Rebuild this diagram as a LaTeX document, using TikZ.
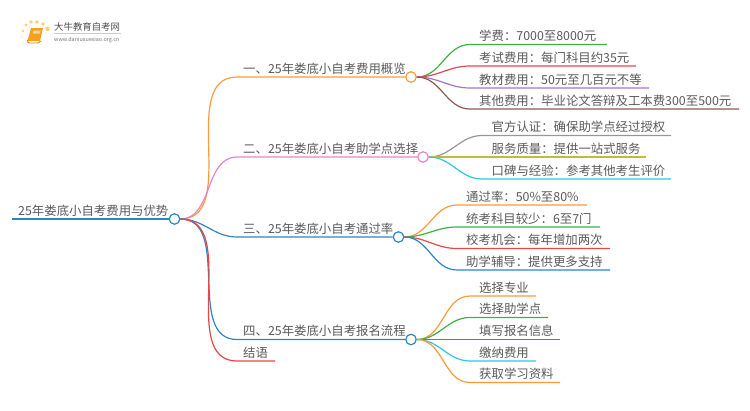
\documentclass[tikz,border=0pt]{standalone}
\usepackage{fontspec}
\setmainfont{Noto Sans CJK SC}
\usepackage{tikz}
\usetikzlibrary{arrows.meta,calc,positioning}
\definecolor{branchorange}{RGB}{255,154,60}
\definecolor{branchpink}{RGB}{232,130,205}
\definecolor{branchblue}{RGB}{46,134,193}
\definecolor{branchred}{RGB}{232,70,75}
\definecolor{branchgreen}{RGB}{62,176,70}
\definecolor{branchpurple}{RGB}{165,115,210}
\definecolor{branchbrown}{RGB}{140,90,85}
\definecolor{branchgray}{RGB}{150,150,150}
\definecolor{brancholive}{RGB}{190,190,50}
\definecolor{branchcyan}{RGB}{45,200,220}
\definecolor{labelgray}{RGB}{90,90,90}
\definecolor{logodot}{RGB}{255,208,110}
\definecolor{logobook}{RGB}{245,160,30}
\tikzset{
  lab/.style={anchor=base west, inner sep=0pt, text=labelgray, font=\fontsize{12.4}{14}\selectfont},
  hub/.style={circle, draw=#1, fill=white, line width=1.2pt, minimum size=10.5pt, inner sep=0pt},
  link/.style={draw=#1, line width=1.2pt}
}
\begin{document}
\begin{tikzpicture}[x=1pt, y=-1pt]
  \useasboundingbox (0,0) rectangle (750,410);
  % logo
  \fill[logodot] (23,31) circle (1.4) (26,25) circle (1.6) (31,22) circle (1.8) (37,22) circle (1.8) (43,24) circle (1.8) (47.5,29) circle (2.2);
  \fill[logodot!40] (22,37) circle (1.2) (23.5,42.5) circle (1);
  \fill[logobook] (31,28) -- (43,28) -- (40,41) -- (27.5,41) -- cycle;
  \draw[logobook!85!black, line width=0.9pt, line cap=round] (27.5,40) .. controls (27.5,42.5) and (28,43) .. (30,43) -- (38,43) -- (41,41);
  \fill[white, opacity=0.55] (33.5,30.5) -- (40.5,30.5) -- (40,33.5) -- (33,33.5) -- cycle;
  \node[anchor=base west, inner sep=0pt, text=black!70, font=\fontsize{9.4}{11}\selectfont] (logotitle) at (54,30.5) {大牛教育自考网};
  \node[anchor=base west, inner sep=0pt, text=black!55, font=\fontsize{5.4}{6}\selectfont] (logourl) at (54,41) {www.daniuxuexiao.org.cn};
  \draw[black!20, line width=0.4pt] (54,33.5) -- (121,33.5);

  % root and main topics
  \coordinate (rootIn) at (12,219);
  \node[hub=branchblue] (root) at (174.5,219) {};
  \node[hub=branchorange] (hubA) at (411,77) {};
  \node[hub=branchpink] (hubB) at (423,157) {};
  \node[hub=branchblue] (hubC) at (398.5,237) {};
  \node[hub=branchblue] (hubD) at (411,339.5) {};
  \coordinate (inA) at (237,77);
  \coordinate (inB) at (237,157);
  \coordinate (inC) at (237,237);
  \coordinate (inD) at (237,339.5);
  \coordinate (inE) at (237,361);
  \coordinate (outE) at (275,361);
  \draw[link=branchblue] (rootIn) -- (root);
  \draw[link=branchorange] (root) to[out=0,in=180] (inA) -- (hubA);
  \draw[link=branchpink] (root) to[out=0,in=180] (inB) -- (hubB);
  \draw[link=branchblue] (root) to[out=0,in=180] (inC) -- (hubC);
  \draw[link=branchblue] (root) to[out=0,in=180] (inD) -- (hubD);
  \draw[link=branchred] (root) to[out=0,in=180] (inE) -- (outE);
  \node[lab] (rootText) at (18,215) {25年娄底小自考费用与优势};
  \node[lab] (textA) at (243,73) {一、25年娄底小自考费用概览};
  \node[lab] (textB) at (243,153) {二、25年娄底小自考助学点选择};
  \node[lab] (textC) at (243,233) {三、25年娄底小自考通过率};
  \node[lab] (textD) at (243,335.5) {四、25年娄底小自考报名流程};
  \node[lab] (textE) at (243,357) {结语};

  % leaves of the first topic
  \coordinate (a1i) at (470,44.5); \coordinate (a1o) at (607,44.5);
  \coordinate (a2i) at (470,66); \coordinate (a2o) at (636,66);
  \coordinate (a3i) at (470,88); \coordinate (a3o) at (649,88);
  \coordinate (a4i) at (470,109); \coordinate (a4o) at (739,109);
  \draw[link=branchgreen] (hubA) to[out=0,in=180] (a1i) -- (a1o);
  \draw[link=branchred] (hubA) to[out=0,in=180] (a2i) -- (a2o);
  \draw[link=branchpurple] (hubA) to[out=0,in=180] (a3i) -- (a3o);
  \draw[link=branchbrown] (hubA) to[out=0,in=180] (a4i) -- (a4o);
  \node[lab] (a1) at (479,40.5) {学费：7000至8000元};
  \node[lab] (a2) at (479,62) {考试费用：每门科目约35元};
  \node[lab] (a3) at (479,84) {教材费用：50元至几百元不等};
  \node[lab] (a4) at (479,105) {其他费用：毕业论文答辩及工本费300至500元};

  % leaves of the second topic
  \coordinate (b1i) at (482,135.5); \coordinate (b1o) at (671,135.5);
  \coordinate (b2i) at (482,157); \coordinate (b2o) at (646,157);
  \coordinate (b3i) at (482,179); \coordinate (b3o) at (671,179);
  \draw[link=branchgray] (hubB) to[out=0,in=180] (b1i) -- (b1o);
  \draw[link=brancholive] (hubB) to[out=0,in=180] (b2i) -- (b2o);
  \draw[link=branchcyan] (hubB) to[out=0,in=180] (b3i) -- (b3o);
  \node[lab] (b1) at (491.5,131.5) {官方认证：确保助学点经过授权};
  \node[lab] (b2) at (491.5,153) {服务质量：提供一站式服务};
  \node[lab] (b3) at (491.5,175) {口碑与经验：参考其他考生评价};

  % leaves of the third topic
  \coordinate (c1i) at (457,205); \coordinate (c1o) at (587,205);
  \coordinate (c2i) at (457,227); \coordinate (c2o) at (600,227);
  \coordinate (c3i) at (457,248.5); \coordinate (c3o) at (610,248.5);
  \coordinate (c4i) at (457,270); \coordinate (c4o) at (610,270);
  \draw[link=branchorange] (hubC) to[out=0,in=180] (c1i) -- (c1o);
  \draw[link=branchgreen] (hubC) to[out=0,in=180] (c2i) -- (c2o);
  \draw[link=branchred] (hubC) to[out=0,in=180] (c3i) -- (c3o);
  \draw[link=branchblue] (hubC) to[out=0,in=180] (c4i) -- (c4o);
  \node[lab] (c1) at (466,201) {通过率：50\%至80\%};
  \node[lab] (c2) at (466,223) {统考科目较少：6至7门};
  \node[lab] (c3) at (466,244.5) {校考机会：每年增加两次};
  \node[lab] (c4) at (466,266) {助学辅导：提供更多支持};

  % leaves of the fourth topic
  \coordinate (d1i) at (470,296); \coordinate (d1o) at (536,296);
  \coordinate (d2i) at (470,317.5); \coordinate (d2o) at (548,317.5);
  \coordinate (d3i) at (470,339.5); \coordinate (d3o) at (560,339.5);
  \coordinate (d4i) at (470,361); \coordinate (d4o) at (536,361);
  \coordinate (d5i) at (470,382.5); \coordinate (d5o) at (560,382.5);
  \draw[link=branchorange] (hubD) to[out=0,in=180] (d1i) -- (d1o);
  \draw[link=branchgreen] (hubD) to[out=0,in=180] (d2i) -- (d2o);
  \draw[link=branchred] (hubD) to[out=0,in=180] (d3i) -- (d3o);
  \draw[link=branchcyan] (hubD) to[out=0,in=180] (d4i) -- (d4o);
  \draw[link=branchorange] (hubD) to[out=0,in=180] (d5i) -- (d5o);
  \node[lab] (d1) at (479,292) {选择专业};
  \node[lab] (d2) at (479,313.5) {选择助学点};
  \node[lab] (d3) at (479,335.5) {填写报名信息};
  \node[lab] (d4) at (479,357) {缴纳费用};
  \node[lab] (d5) at (479,378.5) {获取学习资料};
\end{tikzpicture}
\end{document}
